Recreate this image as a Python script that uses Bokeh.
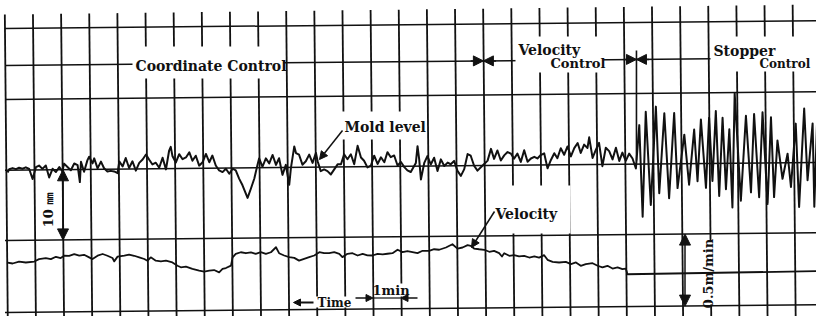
import math
from bokeh.plotting import figure
from bokeh.models import Range1d, Label, Arrow, NormalHead
from bokeh.embed import file_html
from bokeh.resources import INLINE

# ---------------- data ----------------
grid_minutes = list(range(0, 30))                   # one chart division = 1 min
grid_levels_mm = [20.24, 10.1, 0.0, -10.04, -20.33]  # horizontal chart lines
bracket_level_mm = 14.96                             # control-mode bracket line
coord_to_vel_min = 17.0                              # Coordinate -> Velocity control
vel_to_stopper_min = 22.44                           # Velocity -> Stopper control

# Mold level (mm, relative to chart zero line)
mold_t_1 = [0.09, 0.15, 0.27, 0.39, 0.50, 0.62, 0.74, 0.86, 0.98, 1.10, 1.21, 1.33, 1.45, 1.57,
            1.69, 1.81, 1.93, 2.04, 2.10, 2.22, 2.34, 2.46, 2.58, 2.66, 2.70, 2.81, 2.93, 2.99,
            3.11, 3.17, 3.29, 3.41, 3.52, 3.64, 3.76, 3.88, 4.00, 4.06, 4.18, 4.29, 4.41, 4.53,
            4.65, 4.77, 4.89, 5.01, 5.12, 5.24, 5.36, 5.48, 5.60, 5.72, 5.83, 5.89, 5.95, 6.07,
            6.19, 6.31, 6.43, 6.55, 6.66, 6.78, 6.90, 7.02]
mold_mm_1 = [-0.33, 0.14, 0.29, 0.14, 0.33, 0.19, 0.38, 0.14, -1.3, 0.38, 0.62, 0.14, 0.62, -1.1,
             0.14, -0.33, 0.38, -0.24, 0.86, 0.38, -0.1, 0.86, 0.62, -1.8, 1.1, -0.33, 1.33, 1.81,
             0.86, 1.57, 0.14, 1.1, 0.14, -0.33, -0.24, -0.33, -0.57, 1.1, 0.38, 1.57, 0.14, 1.1,
             -0.24, 0.86, 1.33, 2.05, 1.33, 0.62, 0.86, 0.14, 1.57, -0.1, 2.52, 3.1, 1.81, 0.86,
             2.05, 1.33, 1.57, 2.29, 1.1, 1.81, 0.38, 0.86]
mold_t_2 = [7.14, 7.26, 7.37, 7.49, 7.61, 7.73, 7.85, 7.97, 8.09, 8.20, 8.32, 8.44, 8.62, 8.74,
            8.86, 8.97, 9.03, 9.15, 9.27, 9.39, 9.51, 9.63, 9.74, 9.86, 9.98, 10.10, 10.16, 10.28,
            10.34, 10.45, 10.57, 10.69, 10.81, 10.93, 11.05, 11.11, 11.22, 11.34, 11.46, 11.58,
            11.70, 11.82, 11.94, 12.05, 12.17, 12.29, 12.41, 12.53, 12.65, 12.76, 12.88, 13.00,
            13.12, 13.24, 13.36, 13.48, 13.59, 13.71, 13.83, 13.95, 14.07, 14.19, 14.30, 14.42]
mold_mm_2 = [2.05, 0.86, 1.81, 0.38, -0.33, -0.57, -0.1, -0.81, -0.1, -0.33, -1.52, -2.48, -4.29,
             -2.95, -1.52, 0.38, 1.33, 0.14, 1.33, 0.62, 1.81, 0.38, 1.33, -1.05, 0.38, -2.48,
             -0.1, 3.0, 2.05, 1.81, 0.38, 0.86, 1.81, 0.62, 2.05, 0.86, -0.57, -0.33, -0.57,
             -1.05, -0.33, 0.38, 0.38, 1.81, 1.1, 1.81, 0.38, 3.0, 1.33, 0.86, -0.1, 0.14, 1.57,
             0.38, 1.33, 0.62, 2.05, 1.33, 1.57, 0.14, 0.62, -0.1, -0.57, -0.81]
mold_t_3 = [14.60, 14.66, 14.72, 14.78, 14.90, 15.01, 15.13, 15.25, 15.37, 15.49, 15.61, 15.73,
            15.84, 15.96, 16.08, 16.20, 16.32, 16.44, 16.55, 16.67, 16.79, 16.91, 17.03, 17.15,
            17.27, 17.38, 17.50, 17.62, 17.74, 17.86, 17.98, 18.09, 18.21, 18.33, 18.45, 18.57,
            18.69, 18.81, 18.92, 19.04, 19.16, 19.28, 19.40, 19.52, 19.63, 19.75, 19.87, 19.99,
            20.11, 20.23, 20.35, 20.46, 20.58, 20.70, 20.76, 20.88, 21.00, 21.11, 21.23, 21.35,
            21.47, 21.59, 21.71, 21.83, 21.94, 22.06]
mold_mm_3 = [0.48, 2.86, 0.95, -1.9, 0.48, 1.43, 0.24, 1.19, -0.71, 0.95, 0.0, 0.48, 0.24, 0.71,
             -0.71, -1.43, -0.48, 1.67, 1.43, 0.0, -0.71, -0.24, 0.24, 0.71, 2.38, 0.95, 2.14,
             0.71, 1.43, 1.9, 1.67, 0.95, 1.67, 0.48, 2.14, 0.48, 0.95, 1.19, 0.95, 1.43, 1.67,
             -0.48, 0.71, 1.67, 0.95, 2.38, 1.43, 2.62, 1.19, 2.38, 3.1, 1.67, 2.86, 2.38, 3.9,
             0.95, 2.14, 3.1, -0.24, 2.38, 1.9, 0.71, 2.38, 0.48, 1.67, 0.48]
mold_t_4 = [22.18, 22.30, 22.42, 22.54, 22.66, 22.77, 22.95, 23.13, 23.25, 23.43, 23.60, 23.78,
            23.90, 24.14, 24.31, 24.49, 24.61, 24.73, 24.91, 25.02, 25.14, 25.26, 25.38, 25.50,
            25.62, 25.74, 25.85, 25.93, 26.15, 26.33, 26.51, 26.62, 26.80, 26.92, 27.10, 27.22,
            27.33, 27.45, 27.63, 27.81, 27.93, 28.10, 28.22, 28.40, 28.52, 28.70, 28.76, 28.87,
            28.99, 29.05]
mold_mm_4 = [1.52, 0.81, -0.62, 5.57, -7.52, 7.48, -5.86, 8.19, -4.19, 7.24, -4.9, 7.24, -3.48,
             4.14, -3.0, 4.86, -2.52, 6.29, -3.48, 6.52, -2.52, 7.48, -4.67, 6.52, -3.71, 4.86,
             -6.33, 10.0, -5.38, 6.76, -4.19, 7.0, -4.9, 7.24, -5.86, 6.52, -4.9, 3.19, -2.29,
             1.29, -3.48, 5.57, -6.33, 7.71, -2.52, 5.57, -6.33, 7.24, -3.48, 2.0]

# Casting velocity (m/min)
vel_t_1 = [0.09, 0.27, 0.50, 0.74, 1.04, 1.21, 1.45, 1.63, 1.81, 1.98, 2.10, 2.28, 2.46, 2.64,
           2.81, 2.99, 3.11, 3.29, 3.47, 3.64, 3.82, 3.88, 4.00, 4.24, 4.41, 4.59, 4.77, 4.95,
           5.06, 5.18, 5.36, 5.54, 5.72, 5.95, 6.13, 6.25, 6.43, 6.66, 6.90, 7.08, 7.26, 7.43,
           7.61, 7.73, 7.85, 8.03, 8.09, 8.20, 8.38, 8.56, 8.74, 8.91, 9.09, 9.27, 9.45, 9.63,
           9.74, 9.92, 10.10, 10.28, 10.45, 10.63, 10.81, 10.99, 11.17, 11.34, 11.52, 11.70,
           11.88, 11.99, 12.17, 12.35, 12.53, 12.71, 12.88, 13.06, 13.24, 13.42, 13.59, 13.77,
           13.95, 14.13, 14.30, 14.48]
vel_v_1 = [0.849, 0.842, 0.855, 0.848, 0.854, 0.870, 0.877, 0.869, 0.885, 0.876, 0.892, 0.891,
           0.902, 0.891, 0.897, 0.879, 0.867, 0.890, 0.901, 0.889, 0.873, 0.850, 0.882, 0.888,
           0.895, 0.887, 0.876, 0.864, 0.852, 0.875, 0.852, 0.847, 0.851, 0.839, 0.816, 0.805,
           0.809, 0.793, 0.781, 0.774, 0.780, 0.784, 0.768, 0.791, 0.797, 0.813, 0.870, 0.893,
           0.904, 0.897, 0.903, 0.892, 0.903, 0.891, 0.902, 0.936, 0.895, 0.879, 0.867, 0.862,
           0.843, 0.855, 0.866, 0.877, 0.899, 0.892, 0.892, 0.898, 0.887, 0.864, 0.886, 0.890,
           0.874, 0.885, 0.874, 0.873, 0.884, 0.880, 0.884, 0.888, 0.911, 0.894, 0.901, 0.894]
vel_t_2 = [14.66, 14.84, 15.07, 15.25, 15.43, 15.67, 15.90, 16.08, 16.26, 16.44, 16.55, 16.67,
           16.85, 17.03, 17.21, 17.38, 17.56, 17.66, 17.74, 17.92, 18.09, 18.27, 18.45, 18.63,
           18.81, 18.98, 19.16, 19.28, 19.46, 19.69, 19.93, 20.11, 20.29, 20.46, 20.64, 20.88,
           21.06, 21.23, 21.41, 21.59, 21.77, 21.94, 22.06, 22.12, 29.10]
vel_v_2 = [0.886, 0.902, 0.901, 0.912, 0.908, 0.923, 0.945, 0.915, 0.922, 0.938, 0.933, 0.914,
           0.909, 0.905, 0.891, 0.897, 0.881, 0.858, 0.880, 0.862, 0.866, 0.857, 0.861, 0.849,
           0.856, 0.848, 0.864, 0.832, 0.818, 0.813, 0.817, 0.801, 0.812, 0.789, 0.800, 0.806,
           0.788, 0.776, 0.787, 0.768, 0.775, 0.763, 0.767, 0.728, 0.737]

mold_t = mold_t_1 + mold_t_2 + mold_t_3 + mold_t_4
mold_mm = mold_mm_1 + mold_mm_2 + mold_mm_3 + mold_mm_4
vel_t = vel_t_1 + vel_t_2
vel_v = vel_v_1 + vel_v_2
assert len(mold_t) == len(mold_mm) and len(vel_t) == len(vel_v)

# ---------------- layout (page pixel <-> data) ----------------
X0, PX_MIN = 12.5, 28.14      # page x of t=0, px per minute
Y0, PX_MM = 177.7, 7.0        # page y of 0 mm, px per mm
VY, PX_V = 248.0, 146.0       # page y of 1.0 m/min, px per m/min
TILT = 0.27                   # scan rotation: px rise per minute
SKEW = 0.0097                 # scan rotation: px shift right per px down

def T(px): return (px - X0) / PX_MIN
def M(py): return (Y0 - py) / PX_MM
def V(py): return 1.0 + (VY - py) / PX_V

W, H = 816, 316
p = figure(width=W, height=H, x_range=Range1d(T(8), T(8 + W)), y_range=Range1d(M(8 + H), M(8)),
           x_axis_type=None, y_axis_type=None, output_backend="svg", toolbar_location=None,
           min_border=0, outline_line_color=None, background_fill_color="white",
           border_fill_color="white")
p.extra_y_ranges = {"vel": Range1d(V(8 + H), V(8))}

INK = "#111111"
FONT = "DejaVu Serif"

# vertical chart lines
vx0, vy0, vx1, vy1 = [], [], [], []
for k in grid_minutes:
    top = 22 - 10 * k / 29
    bot = 345
    vx0.append(T(X0 + PX_MIN * k + SKEW * (top - 40)))
    vx1.append(T(X0 + PX_MIN * k + SKEW * (bot - 40)))
    vy0.append(M(top))
    vy1.append(M(bot))
p.segment(vx0, vy0, vx1, vy1, line_color=INK, line_width=1.8)

# horizontal chart lines (slightly tilted like the scan)
t_end = 29.8
p.segment([0] * len(grid_levels_mm), grid_levels_mm, [t_end] * len(grid_levels_mm),
          [l + TILT * t_end / PX_MM for l in grid_levels_mm], line_color=INK, line_width=1.5)
t_br = T(718)
p.segment([0], [bracket_level_mm], [t_br], [bracket_level_mm + TILT * t_br / PX_MM],
          line_color=INK, line_width=1.5)

# white-out boxes behind the hand lettering
boxes = [(140, 291, 54, 86), (343, 433, 119, 147), (523, 611, 44, 80), (719, 830, 44, 79),
         (500, 578, 193, 241), (706, 727, 249, 312), (382, 420, 291, 304), (323, 362, 304, 315)]
p.quad(left=[T(b[0]) for b in boxes], right=[T(b[1]) for b in boxes],
       top=[M(b[2]) for b in boxes], bottom=[M(b[3]) for b in boxes],
       fill_color="white", line_color=None)

# traces
p.line(mold_t, [m + TILT * t / PX_MM for t, m in zip(mold_t, mold_mm)],
       line_color=INK, line_width=2.0, line_join="round")
p.line(vel_t, [v + TILT * t / PX_V for t, v in zip(vel_t, vel_v)], y_range_name="vel",
       line_color=INK, line_width=1.8, line_join="round")

# stopper-control start marker
p.segment([vel_to_stopper_min], [M(58)], [vel_to_stopper_min], [M(168)], line_color=INK, line_width=1.6)

def head(sz=9):
    return NormalHead(size=sz, fill_color=INK, line_color=INK, line_width=1)

def arrow(x0, y0, x1, y1, sz=9, both=False, lw=1.5):
    p.add_layout(Arrow(end=head(sz), start=head(sz) if both else None,
                       x_start=x0, y_start=y0, x_end=x1, y_end=y1,
                       line_color=INK, line_width=lw))

# boundary arrows on bracket line
for tb in (coord_to_vel_min, vel_to_stopper_min):
    yb = bracket_level_mm + TILT * tb / PX_MM
    arrow(tb - 0.45, yb, tb, yb, sz=10)
    arrow(tb + 0.45, yb, tb, yb, sz=10)

# scale arrows
arrow(T(70.5), M(177.3), T(70.5), M(247.4), sz=11, both=True)
arrow(T(692.5), M(241.6), T(692.5), M(313.6), sz=11, both=True)
# leaders
arrow(T(350), M(138), T(327), M(167), sz=8)
arrow(T(502), M(219), T(479), M(255), sz=8)
# 1 min marker
arrow(T(363), M(305.5), T(380.5), M(305.5), sz=7)
arrow(T(425), M(305.5), T(408.5), M(305.5), sz=7)
p.segment([T(380.5)], [M(305.5)], [T(408.5)], [M(305.5)], line_color=INK, line_width=1.2)
# time direction arrow
arrow(T(321), M(310), T(301), M(310), sz=7, lw=2)

def label(x, y, text, size="14px", angle=0.0, align="left"):
    p.add_layout(Label(x=T(x), y=M(y), text=text, text_font=FONT, text_font_style="bold",
                       text_font_size=size, text_color=INK, text_align=align,
                       text_baseline="middle", angle=angle))

label(143, 73, "Coordinate Control")
label(526, 57, "Velocity")
label(558, 70.5, "Control", size="13px")
label(721, 58, "Stopper")
label(767, 71, "Control", size="12px")
label(352, 134, "Mold level")
label(503, 221, "Velocity")
label(380, 298, "1min", size="13px")
label(56, 217, "10 ㎜", size="13px", angle=math.pi / 2, align="center")
label(716, 281, "0.5m/min", size="13px", angle=math.pi / 2, align="center")
label(325, 310, "Time", size="12px")

open("out.html", "w").write(file_html(p, INLINE))
